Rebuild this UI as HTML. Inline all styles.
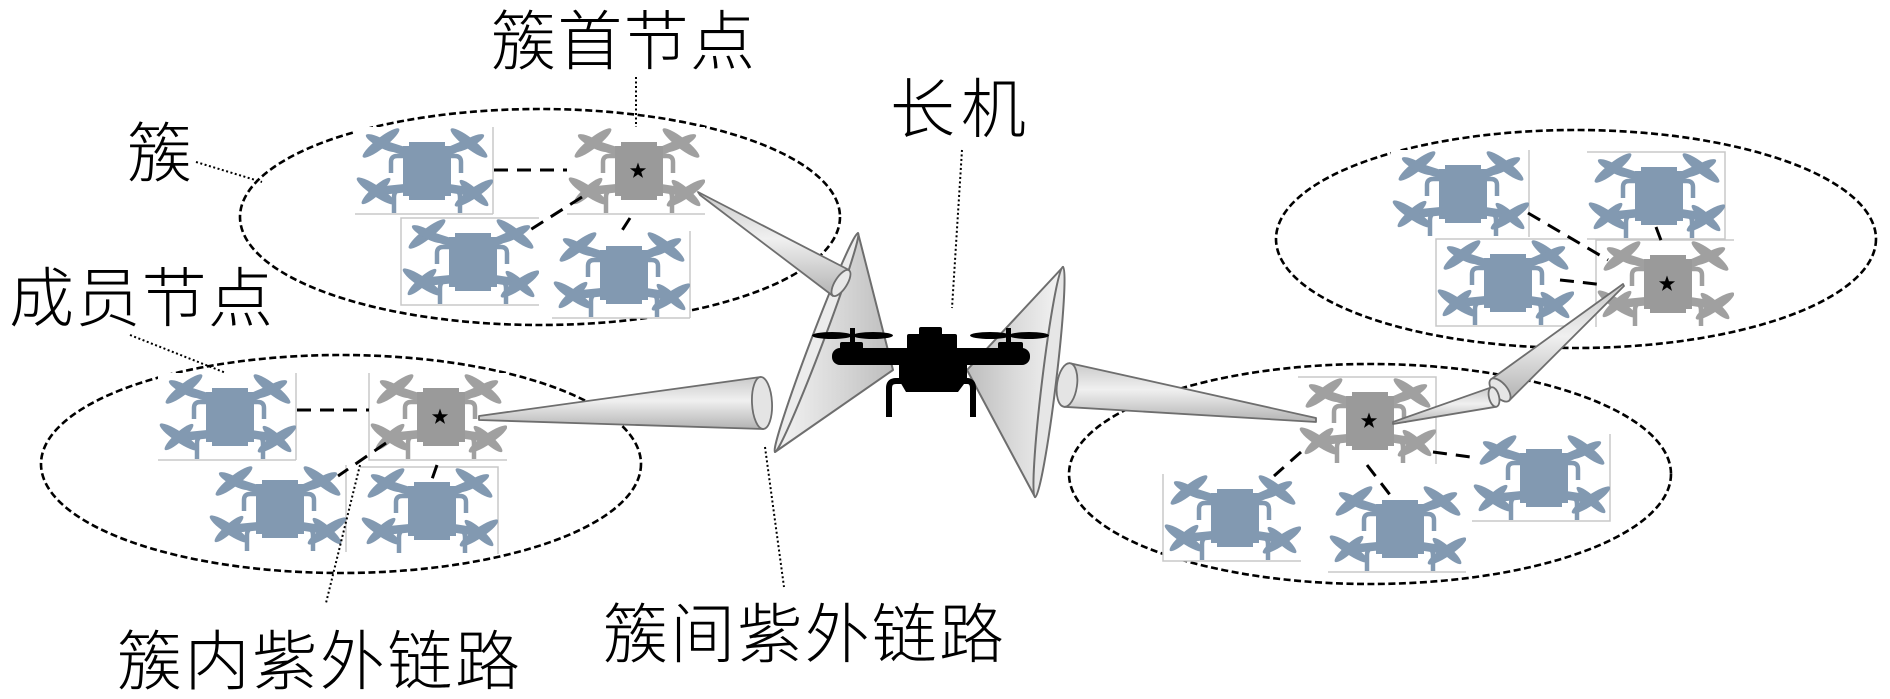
<!DOCTYPE html>
<html><head><meta charset="utf-8">
<style>
html,body{margin:0;padding:0;background:#fff;}
svg{display:block;}
text{font-family:"Liberation Sans","Noto Sans CJK SC",sans-serif;font-weight:300;font-size:65px;fill:#000;}
</style></head><body>
<svg width="1890" height="699" viewBox="0 0 1890 699" xmlns="http://www.w3.org/2000/svg">
<defs>
 <linearGradient id="cg" x1="0" y1="0" x2="0" y2="1">
  <stop offset="0" stop-color="#c9c9c9"/><stop offset="0.45" stop-color="#f0f0f0"/><stop offset="1" stop-color="#b3b3b3"/>
 </linearGradient>
 <linearGradient id="dg" x1="0" y1="0" x2="1" y2="0">
  <stop offset="0" stop-color="#f4f4f4"/><stop offset="0.5" stop-color="#dadada"/><stop offset="1" stop-color="#bdbdbd"/>
 </linearGradient>
 <linearGradient id="dg2" x1="1" y1="0" x2="0" y2="0">
  <stop offset="0" stop-color="#f4f4f4"/><stop offset="0.5" stop-color="#dadada"/><stop offset="1" stop-color="#bdbdbd"/>
 </linearGradient>
 <symbol id="m" viewBox="0 0 138 87" width="138" height="87">
  <g fill="none" stroke="#8299b1">
   <path d="M52 25 L27 17 M92 25 L113 16 M52 61 L22 64 M92 61 L118 65" stroke-width="8.5"/>
   <path d="M36 46 V35 Q36 29 42 29 H50 M106 46 V35 Q106 29 100 29 H94" stroke-width="4.5"/>
   <path d="M49 62 Q39 62 39 70 V86 M95 62 Q105 62 105 70 V86" stroke-width="4.5"/>
  </g>
  <g fill="#8299b1">
   <ellipse rx="23" ry="5.2" transform="translate(26 16) rotate(-38)"/>
   <ellipse rx="17" ry="4.5" transform="translate(26 16) rotate(28)"/>
   <ellipse rx="23" ry="5.2" transform="translate(114 16) rotate(38)"/>
   <ellipse rx="17" ry="4.5" transform="translate(114 16) rotate(-28)"/>
   <ellipse rx="23" ry="5.2" transform="translate(21 64) rotate(34)"/>
   <ellipse rx="19" ry="4.5" transform="translate(21 64) rotate(-42)"/>
   <ellipse rx="23" ry="5.2" transform="translate(119 66) rotate(-34)"/>
   <ellipse rx="19" ry="4.5" transform="translate(119 66) rotate(42)"/>
   <path d="M54 15 H90 V19 H96 V69 H90 V73 H54 V69 H48 V19 H54 Z"/>
  </g>
 </symbol>
 <symbol id="h" viewBox="0 0 138 87" width="138" height="87">
  <g fill="none" stroke="#a0a0a0">
   <path d="M52 25 L27 17 M92 25 L113 16 M52 61 L22 64 M92 61 L118 65" stroke-width="8.5"/>
   <path d="M36 46 V35 Q36 29 42 29 H50 M106 46 V35 Q106 29 100 29 H94" stroke-width="4.5"/>
   <path d="M49 62 Q39 62 39 70 V86 M95 62 Q105 62 105 70 V86" stroke-width="4.5"/>
  </g>
  <g fill="#a0a0a0">
   <ellipse rx="23" ry="5.2" transform="translate(26 16) rotate(-38)"/>
   <ellipse rx="17" ry="4.5" transform="translate(26 16) rotate(28)"/>
   <ellipse rx="23" ry="5.2" transform="translate(114 16) rotate(38)"/>
   <ellipse rx="17" ry="4.5" transform="translate(114 16) rotate(-28)"/>
   <ellipse rx="23" ry="5.2" transform="translate(21 64) rotate(34)"/>
   <ellipse rx="19" ry="4.5" transform="translate(21 64) rotate(-42)"/>
   <ellipse rx="23" ry="5.2" transform="translate(119 66) rotate(-34)"/>
   <ellipse rx="19" ry="4.5" transform="translate(119 66) rotate(42)"/>
  </g>
  <path fill="#9a9a9a" d="M54 15 H90 V19 H96 V69 H90 V73 H54 V69 H48 V19 H54 Z"/>
  <path fill="#000" transform="translate(71 44)" d="M0,-8.5 L2,-2.75 L8.08,-2.63 L3.23,1.05 L5,6.88 L0,3.4 L-5,6.88 L-3.23,1.05 L-8.08,-2.63 L-2,-2.75 Z"/>
 </symbol>
</defs>

<!-- cluster ellipses -->
<g fill="none" stroke="#000" stroke-width="2.6" stroke-dasharray="7 3.5">
 <ellipse cx="540" cy="217" rx="300" ry="108"/>
 <ellipse cx="341" cy="464" rx="300" ry="109"/>
 <ellipse cx="1576" cy="239" rx="300" ry="109"/>
 <ellipse cx="1370" cy="474" rx="301" ry="110"/>
</g>

<!-- drone boxes (white backgrounds) -->
<g fill="#fff">
 <rect x="355" y="127" width="138" height="87"/>
 <rect x="567" y="127" width="138" height="87"/>
 <rect x="401" y="218" width="138" height="87"/>
 <rect x="552" y="231" width="138" height="87"/>
 <rect x="158" y="373" width="138" height="87"/>
 <rect x="369" y="373" width="138" height="87"/>
 <rect x="208" y="465" width="138" height="87"/>
 <rect x="360" y="467" width="138" height="87"/>
 <rect x="1391" y="150" width="138" height="87"/>
 <rect x="1587" y="152" width="138" height="87"/>
 <rect x="1436" y="239" width="138" height="87"/>
 <rect x="1596" y="240" width="138" height="87"/>
 <rect x="1298" y="377" width="138" height="87"/>
 <rect x="1163" y="474" width="138" height="87"/>
 <rect x="1328" y="485" width="138" height="87"/>
 <rect x="1472" y="434" width="138" height="87"/>
</g>
<g fill="none" stroke="#c8c8c8" stroke-width="1.5">
 <path d="M493 127 V214 M355 214 H493"/>
 <path d="M567 214 H705"/>
 <path d="M539 218 H401 V305 H539"/>
 <path d="M690 231 V318 M552 318 H690"/>
 <path d="M296 373 V460 M158 460 H296"/>
 <path d="M369 373 V460 H507"/>
 <path d="M346 465 V552"/>
 <path d="M360 467 H498 V554"/>
 <path d="M1529 150 V237"/>
 <path d="M1587 152 H1725 V239 H1587"/>
 <path d="M1574 239 H1436 V326 H1574"/>
 <path d="M1596 327 V240 H1734"/>
 <path d="M1298 377 H1436 V464"/>
 <path d="M1163 474 V561 H1301"/>
 <path d="M1328 572 H1466"/>
 <path d="M1610 434 V521 H1472"/>
</g>

<!-- drones -->
<use href="#m" x="355" y="127"/>
<use href="#h" x="567" y="127"/>
<use href="#m" x="401" y="218"/>
<use href="#m" x="552" y="231"/>

<use href="#m" x="158" y="373"/>
<use href="#h" x="369" y="373"/>
<use href="#m" x="208" y="465"/>
<use href="#m" x="360" y="467"/>

<use href="#m" x="1391" y="150"/>
<use href="#m" x="1587" y="152"/>
<use href="#m" x="1436" y="239"/>
<use href="#h" x="1596" y="240"/>

<use href="#h" x="1298" y="377"/>
<use href="#m" x="1163" y="474"/>
<use href="#m" x="1328" y="485"/>
<use href="#m" x="1472" y="434"/>

<!-- intra-cluster links -->
<g fill="none" stroke="#000" stroke-width="3" stroke-dasharray="14 9">
 <path d="M494 170 L567 170 M582 197 L530 230 M630 218 L621 232"/>
 <path d="M297 410 L369 410 M386 443 L338 476 M437 465 L431 482"/>
 <path d="M1528 213 L1608 260 M1560 280 L1605 285 M1656 227 L1662 243"/>
 <path d="M1301 452 L1274 476 M1367 465 L1394 500 M1433 452 L1478 458"/>
</g>

<!-- label leader lines -->
<g fill="none" stroke="#000" stroke-width="2" stroke-dasharray="2 2.5">
 <path d="M636 77 L636 127"/>
 <path d="M962 150 L952 308"/>
 <path d="M196 162 L262 182"/>
 <path d="M130 335 L226 373"/>
 <path d="M360 465 L326 603"/>
 <path d="M765 447 L784 587"/>
</g>

<!-- leader dishes -->
<g stroke="#6e6e6e" stroke-width="2" stroke-linejoin="round">
 <polygon points="858,233 893,370 775,452" fill="url(#dg)"/>
 <ellipse rx="117" ry="6" transform="translate(816.5 342.5) rotate(110.8)" fill="#ececec"/>
 <polygon points="1063,267 967,370 1035,497" fill="url(#dg2)"/>
 <ellipse rx="116" ry="7" transform="translate(1049 382) rotate(96.9)" fill="#e6e6e6"/>
</g>

<!-- leader drone -->
<g fill="#000">
 <ellipse cx="832" cy="335.5" rx="20" ry="3.5"/>
 <ellipse cx="873" cy="335.5" rx="20" ry="3.5"/>
 <ellipse cx="990" cy="335.5" rx="20" ry="3.5"/>
 <ellipse cx="1029" cy="335.5" rx="20" ry="3.5"/>
 <rect x="850" y="328" width="5" height="22"/>
 <rect x="1006" y="328" width="5" height="22"/>
 <rect x="840" y="342" width="23" height="10" rx="2"/>
 <rect x="998" y="342" width="25" height="10" rx="2"/>
 <rect x="832" y="348" width="198" height="17" rx="8"/>
 <rect x="919" y="327" width="23" height="10" rx="2"/>
 <rect x="907" y="334" width="50" height="58" rx="2"/>
 <polygon points="899,363 967,363 967,380 958,392 906,392 899,380"/>
</g>
<g fill="none" stroke="#000" stroke-width="6">
 <path d="M908 381 L896 381 Q889 381 889 388 L889 417"/>
 <path d="M956 381 L967 381 Q973 381 973 388 L973 417"/>
</g>

<!-- beams -->
<g stroke="#6e6e6e" stroke-width="1.8" stroke-linejoin="round">
 <polygon points="698,192 700,195 833,296 849,270" fill="url(#cg)"/>
 <ellipse rx="6" ry="15" transform="translate(841 283) rotate(32.4)" fill="#e8e8e8"/>

 <polygon points="479,416 479,420 763.4,429 760.6,377" fill="url(#cg)"/>
 <ellipse rx="10" ry="26" transform="translate(762 403) rotate(-3)" fill="#e4e4e4"/>

 <polygon points="1316,418 1316,422 1064,406.8 1070,363.2" fill="url(#cg)"/>
 <ellipse rx="10" ry="22" transform="translate(1067 385) rotate(8)" fill="#e4e4e4"/>

 <polygon points="1623,284 1624,286 1509.1,400.6 1490.9,379.4" fill="url(#cg)"/>
 <ellipse rx="7" ry="14" transform="translate(1500 390) rotate(139.5)" fill="#e6e6e6"/>

 <polygon points="1393,422 1393,424 1496.5,406.7 1491.5,387.3" fill="url(#cg)"/>
 <ellipse rx="5" ry="10" transform="translate(1494 397) rotate(-14.4)" fill="#e8e8e8"/>
</g>

<!-- labels -->
<text x="491" y="64" textLength="264">簇首节点</text>
<text x="890" y="132" textLength="136">长机</text>
<text x="127" y="176">簇</text>
<text x="9" y="321" textLength="264">成员节点</text>
<text x="117" y="684" textLength="403">簇内紫外链路</text>
<text x="603" y="657" textLength="401">簇间紫外链路</text>
</svg>
</body></html>
